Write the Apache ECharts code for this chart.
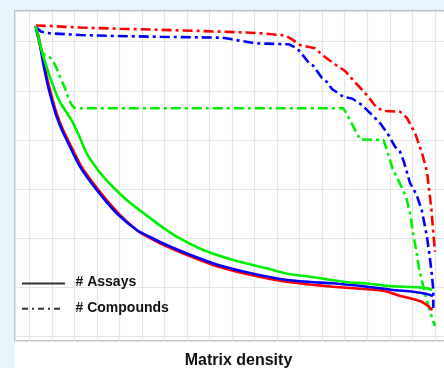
<!DOCTYPE html>
<html>
<head>
<meta charset="utf-8">
<script src="https://cdn.jsdelivr.net/npm/echarts@6/dist/echarts.min.js"></script>
<style>
html,body{margin:0;padding:0;background:#e9f5fc;}
#c{width:444px;height:368px;}
</style>
</head>
<body>
<div id="c"></div>
<script>
// Axis ranges (gridline units: x one step per vertical gridline, y one step per horizontal gridline)
const xRange = [-0.635, 18.762];
const yRange = [-0.102, 6.626];

const legendLabels = ['# Assays', '# Compounds'];
const axisTitle = 'Matrix density';

// # Compounds (dash-dot)
const redCompounds = [[0.284,6.330],[0.919,6.320],[2.250,6.289],[4.026,6.265],[5.801,6.243],[7.577,6.218],[8.553,6.204],[9.574,6.188],[10.462,6.167],[11.349,6.126],[11.704,6.035],[12.015,5.933],[12.681,5.865],[13.125,5.688],[13.613,5.525],[14.013,5.403],[14.368,5.219],[14.901,4.954],[15.433,4.648],[15.788,4.587],[16.454,4.573],[16.764,4.444],[17.120,4.139],[17.430,3.731],[17.652,3.344],[17.852,2.569],[17.940,2.059],[18.007,1.713]];
const blueCompounds = [[0.284,6.300],[0.519,6.208],[0.786,6.177],[1.065,6.167],[2.250,6.136],[3.879,6.116],[5.801,6.100],[8.553,6.082],[8.997,6.049],[10.018,5.967],[11.527,5.947],[11.882,5.865],[12.015,5.796],[12.414,5.566],[12.592,5.515],[12.991,5.260],[13.213,5.178],[13.435,5.036],[13.946,4.873],[14.323,4.842],[14.768,4.709],[15.211,4.506],[15.566,4.343],[15.943,4.098],[16.232,3.859],[16.454,3.757],[16.631,3.547],[16.898,3.119],[17.195,2.875],[17.417,2.569],[17.639,2.059],[17.763,1.651],[17.861,1.284],[17.932,0.938],[17.932,0.571]];
const greenCompounds = [[0.284,6.305],[0.386,6.075],[0.475,5.912],[0.550,5.796],[0.652,5.739],[0.772,5.719],[0.919,5.678],[1.052,5.607],[1.185,5.484],[1.363,5.286],[1.585,5.050],[1.731,4.846],[1.882,4.709],[2.028,4.642],[13.946,4.642],[14.323,4.322],[14.679,4.006],[15.721,3.996],[15.876,3.792],[16.010,3.588],[16.143,3.384],[16.307,3.248],[16.543,3.017],[16.720,2.840],[16.898,2.508],[17.031,2.100],[17.195,1.692],[17.297,1.386],[17.417,1.142],[17.639,0.734],[17.861,0.393],[18.007,0.204]];

// # Assays (solid)
const redAssays = [[0.284,6.320],[0.408,6.116],[0.519,5.872],[0.639,5.586],[0.777,5.280],[0.919,5.015],[1.074,4.750],[1.265,4.471],[1.460,4.241],[1.718,3.996],[2.317,3.452],[3.071,2.977],[3.959,2.502],[4.847,2.130],[5.402,1.988],[5.846,1.880],[6.290,1.790],[7.310,1.596],[8.331,1.423],[9.796,1.248],[11.274,1.115],[12.459,1.050],[13.480,1.005],[14.989,0.952],[15.566,0.932],[16.010,0.887],[16.321,0.836],[16.898,0.769],[17.430,0.693],[17.696,0.612],[17.896,0.530]];
const blueAssays = [[0.284,6.320],[0.386,6.116],[0.497,5.872],[0.608,5.586],[0.741,5.280],[0.874,5.015],[1.030,4.750],[1.216,4.471],[1.407,4.241],[1.660,3.996],[2.250,3.452],[2.992,2.977],[3.879,2.502],[4.767,2.161],[5.357,2.018],[5.801,1.916],[6.245,1.825],[7.279,1.631],[8.318,1.458],[9.796,1.284],[11.274,1.152],[12.459,1.101],[13.480,1.074],[14.989,1.005],[16.143,0.938],[17.031,0.903],[17.652,0.856],[17.918,0.815]];
const greenAssays = [[0.284,6.320],[0.408,6.096],[0.550,5.810],[0.741,5.525],[0.963,5.219],[1.163,4.975],[1.318,4.811],[1.451,4.699],[1.629,4.577],[1.784,4.465],[1.953,4.336],[2.250,4.037],[2.548,3.725],[2.916,3.466],[3.284,3.248],[3.804,2.997],[4.323,2.773],[4.913,2.559],[5.357,2.406],[5.801,2.253],[6.542,2.024],[7.723,1.753],[9.055,1.549],[10.537,1.380],[11.513,1.264],[12.459,1.209],[14.013,1.101],[14.989,1.070],[15.965,1.019],[17.208,0.993],[17.696,0.968],[17.874,0.938]];

const RED = '#ff0000', BLUE = '#0000ff', GREEN = '#00ee00';
const DASHDOT = [10, 4, 3, 4];
const FONT = '"Liberation Sans", Arial, sans-serif';

function dashSeries(name, data, color) {
  return { name, type: 'line', data, symbol: 'none', silent: true,
    lineStyle: { color, width: 2.6, type: DASHDOT }, z: 2 };
}
function solidSeries(name, data, color, z) {
  return { name, type: 'line', data, symbol: 'none', silent: true, smooth: 0.25,
    lineStyle: { color, width: 2.6 }, z };
}

const chart = echarts.init(document.getElementById('c'), null, { renderer: 'canvas' });
chart.setOption({
  animation: false,
  backgroundColor: '#e9f5fc',
  grid: { left: 15, top: 11, width: 437, bottom: 27, show: true,
    outerBoundsMode: 'none', containLabel: false,
    backgroundColor: '#ffffff', borderColor: '#aaaaaa', borderWidth: 1.5 },
  xAxis: { type: 'value', min: xRange[0], max: xRange[1], splitNumber: 19,
    minInterval: 1, maxInterval: 1,
    axisLine: { show: false }, axisTick: { show: false }, axisLabel: { show: false },
    splitLine: { show: true, lineStyle: { color: '#e4e4e4', width: 1.2 } } },
  yAxis: { type: 'value', min: yRange[0], max: yRange[1], splitNumber: 7,
    minInterval: 1, maxInterval: 1,
    axisLine: { show: false }, axisTick: { show: false }, axisLabel: { show: false },
    splitLine: { show: true, lineStyle: { color: '#e4e4e4', width: 1.2 } } },
  graphic: [
    { type: 'rect', shape: { x: 15, y: 341, width: 440, height: 30 }, style: { fill: '#ffffff' }, z: -1, silent: true },
    { type: 'line', shape: { x1: 22, y1: 283.5, x2: 65, y2: 283.5 }, style: { stroke: '#333333', lineWidth: 2 }, z: 10 },
    { type: 'line', shape: { x1: 22, y1: 308.7, x2: 62, y2: 308.7 }, style: { stroke: '#333333', lineWidth: 2, lineDash: [6, 4, 2, 4] }, z: 10 },
    { type: 'text', x: 75.5, y: 282.5, style: { text: legendLabels[0], fill: '#111111', font: 'bold 14px ' + FONT, verticalAlign: 'middle' }, z: 10 },
    { type: 'text', x: 75.5, y: 308, style: { text: legendLabels[1], fill: '#111111', font: 'bold 14px ' + FONT, verticalAlign: 'middle' }, z: 10 },
    { type: 'text', x: 238.5, y: 360.5, style: { text: axisTitle, fill: '#111111', font: 'bold 16px ' + FONT, align: 'center', verticalAlign: 'middle' }, z: 10 }
  ],
  series: [
    dashSeries('# Compounds red', redCompounds, RED),
    dashSeries('# Compounds blue', blueCompounds, BLUE),
    dashSeries('# Compounds green', greenCompounds, GREEN),
    solidSeries('# Assays red', redAssays, RED, 3),
    solidSeries('# Assays blue', blueAssays, BLUE, 4),
    solidSeries('# Assays green', greenAssays, GREEN, 5)
  ]
});
</script>
</body>
</html>
